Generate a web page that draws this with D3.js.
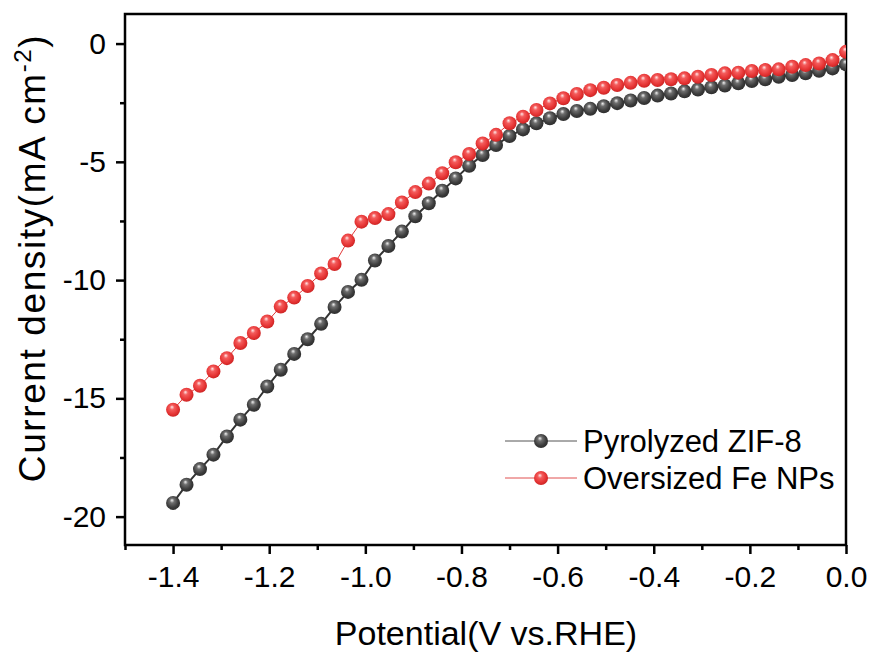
<!DOCTYPE html>
<head>
  <meta charset="utf-8">
  <script src="https://cdn.jsdelivr.net/npm/d3@7"></script>
  <style>
    body { margin: 0; background: #fff; }
    text { font-family: Arial, "Liberation Sans", sans-serif; fill: #000; }
  </style>
</head>
<body>
<div id="container"></div>
<script>

  // potential (V vs. RHE) of every recorded point
  let potential = [-1.400, -1.372, -1.344, -1.316, -1.288, -1.260, -1.232, -1.204, -1.176, -1.148,
    -1.120, -1.092, -1.064, -1.036, -1.008, -0.980, -0.952, -0.924, -0.896, -0.868,
    -0.840, -0.812, -0.784, -0.756, -0.728, -0.700, -0.672, -0.644, -0.616, -0.588,
    -0.560, -0.532, -0.504, -0.476, -0.448, -0.420, -0.392, -0.364, -0.336, -0.308,
    -0.280, -0.252, -0.224, -0.196, -0.168, -0.140, -0.112, -0.084, -0.056, -0.028, 0.000];

  let zif8 = [-19.42, -18.65, -17.99, -17.38, -16.61, -15.90, -15.27, -14.50, -13.79, -13.12,
    -12.50, -11.85, -11.14, -10.50, -9.99, -9.17, -8.56, -7.95, -7.30, -6.75,
    -6.22, -5.70, -5.17, -4.71, -4.29, -3.91, -3.63, -3.37, -3.16, -2.98,
    -2.85, -2.76, -2.65, -2.52, -2.41, -2.30, -2.20, -2.11, -2.02, -1.94,
    -1.85, -1.77, -1.68, -1.58, -1.51, -1.40, -1.33, -1.26, -1.15, -1.05, -0.88];

  let fenps = [-15.48, -14.85, -14.47, -13.86, -13.30, -12.66, -12.24, -11.75, -11.12, -10.74,
    -10.25, -9.72, -9.32, -8.33, -7.53, -7.38, -7.21, -6.72, -6.28, -5.92,
    -5.48, -5.02, -4.67, -4.22, -3.86, -3.37, -3.09, -2.81, -2.53, -2.31,
    -2.13, -1.97, -1.87, -1.75, -1.66, -1.57, -1.54, -1.51, -1.47, -1.40,
    -1.33, -1.26, -1.23, -1.16, -1.12, -1.09, -0.98, -0.91, -0.84, -0.70, -0.35];

  let seriesNames = ["Pyrolyzed ZIF-8", "Oversized Fe NPs"];
  let xTicks = [-1.4, -1.2, -1.0, -0.8, -0.6, -0.4, -0.2, 0.0];
  let yTicks = [0, -5, -10, -15, -20];

  let svg_width = 872;
  let svg_height = 653;

  let padding = {top: 14, right: 26, bottom: 108, left: 125};

  let xScale = d3.scaleLinear()
          .domain([-1.5, 0])
          .range([padding.left, svg_width - padding.right]);

  let yScale = d3.scaleLinear()
          .domain([-21.2, 1.25])
          .range([svg_height - padding.bottom, padding.top]);

  let svg = d3.select("#container").append("svg")
          .attr("width", svg_width)
          .attr("height", svg_height);

  let defs = svg.append("defs");

  // shaded ball markers
  let balls = [
    {id: "ballBlack", stops: ["#f2f2f2", "#6e6e6e", "#3c3c3c", "#2a2a2a"]},
    {id: "ballRed", stops: ["#ffeaea", "#f45c5c", "#e53434", "#c62020"]}
  ];
  balls.forEach(function (b) {
    let g = defs.append("radialGradient")
            .attr("id", b.id)
            .attr("cx", "45%").attr("cy", "45%").attr("r", "60%")
            .attr("fx", "42%").attr("fy", "30%");
    let offs = ["0%", "28%", "70%", "100%"];
    for (let i = 0; i < 4; i = i + 1) {
      g.append("stop").attr("offset", offs[i]).attr("stop-color", b.stops[i]);
    }
  });

  defs.append("clipPath").attr("id", "plotClip")
          .append("rect")
          .attr("x", padding.left)
          .attr("y", padding.top)
          .attr("width", svg_width - padding.right - padding.left)
          .attr("height", svg_height - padding.bottom - padding.top);

  let minorX = [-1.5, -1.3, -1.1, -0.9, -0.7, -0.5, -0.3, -0.1];
  let minorY = [-2.5, -7.5, -12.5, -17.5];

  // x axis: major + minor ticks
  svg.append("g")
          .attr("transform", "translate(0," + (svg_height - padding.bottom) + ")")
          .call(d3.axisBottom(xScale).tickValues(minorX).tickSize(5).tickFormat(""))
          .call(function (g) { g.select(".domain").remove(); })
          .selectAll("line").attr("stroke-width", 2.5);

  let xAxisG = svg.append("g")
          .attr("transform", "translate(0," + (svg_height - padding.bottom) + ")")
          .call(d3.axisBottom(xScale).tickValues(xTicks).tickSize(9).tickPadding(12));
  xAxisG.select(".domain").remove();
  xAxisG.selectAll("line").attr("stroke-width", 2.5);
  xAxisG.selectAll("text")
          .style("font-size", "30px")
          .text(function (d) { return d3.format(".1f")(d).replace("−", "-"); });

  // y axis
  svg.append("g")
          .attr("transform", "translate(" + padding.left + ",0)")
          .call(d3.axisLeft(yScale).tickValues(minorY).tickSize(5).tickFormat(""))
          .call(function (g) { g.select(".domain").remove(); })
          .selectAll("line").attr("stroke-width", 2.5);

  let yAxisG = svg.append("g")
          .attr("transform", "translate(" + padding.left + ",0)")
          .call(d3.axisLeft(yScale).tickValues(yTicks).tickSize(9).tickPadding(10));
  yAxisG.select(".domain").remove();
  yAxisG.selectAll("line").attr("stroke-width", 2.5);
  yAxisG.selectAll("text")
          .style("font-size", "30px")
          .text(function (d) { return String(d); });

  // frame
  svg.append("rect")
          .attr("x", padding.left)
          .attr("y", padding.top)
          .attr("width", svg_width - padding.right - padding.left)
          .attr("height", svg_height - padding.bottom - padding.top)
          .attr("fill", "none")
          .attr("stroke", "#000")
          .attr("stroke-width", 2.5);

  let plot = svg.append("g").attr("clip-path", "url(#plotClip)");

  let series = [
    {values: zif8, line: "#333333", legendLine: "#555555", width: 2, fill: "url(#ballBlack)"},
    {values: fenps, line: "#e23a3a", legendLine: "#e05050", width: 1, fill: "url(#ballRed)"}
  ];

  let lineGen = d3.line()
          .x(function (d) { return xScale(d[0]); })
          .y(function (d) { return yScale(d[1]); });

  series.forEach(function (s) {
    let pts = potential.map(function (p, i) { return [p, s.values[i]]; });

    plot.append("path")
            .datum(pts)
            .attr("fill", "none")
            .attr("stroke", s.line)
            .attr("stroke-width", s.width)
            .attr("d", lineGen);

    plot.selectAll()
            .data(pts)
            .enter()
            .append("circle")
            .attr("cx", function (d) { return xScale(d[0]); })
            .attr("cy", function (d) { return yScale(d[1]); })
            .attr("r", 7)
            .attr("fill", s.fill);
  });

  // legend
  for (let i = 0; i < seriesNames.length; i = i + 1) {
    let ly = 441 + i * 37;
    svg.append("line")
            .attr("x1", 505).attr("x2", 577)
            .attr("y1", ly).attr("y2", ly)
            .attr("stroke", series[i].legendLine)
            .attr("stroke-width", 1);
    svg.append("circle")
            .attr("cx", 541).attr("cy", ly)
            .attr("r", 7)
            .attr("fill", series[i].fill);
    svg.append("text")
            .attr("x", 583)
            .attr("y", ly + 11)
            .style("font-size", "31px")
            .text(seriesNames[i]);
  }

  // axis titles
  svg.append("text")
          .attr("x", 486)
          .attr("y", 645)
          .style("text-anchor", "middle")
          .style("font-size", "34px")
          .text("Potential(V vs.RHE)");

  let yt = svg.append("text")
          .attr("transform", "translate(45," + 258 + ") rotate(-90)")
          .style("text-anchor", "middle")
          .style("font-size", "37px")
          .style("letter-spacing", "1.6px");
  yt.append("tspan").text("Current density(mA cm");
  yt.append("tspan").attr("dy", -14).style("font-size", "24px").text("-2");
  yt.append("tspan").attr("dy", 14).text(")");

</script>
</body>
